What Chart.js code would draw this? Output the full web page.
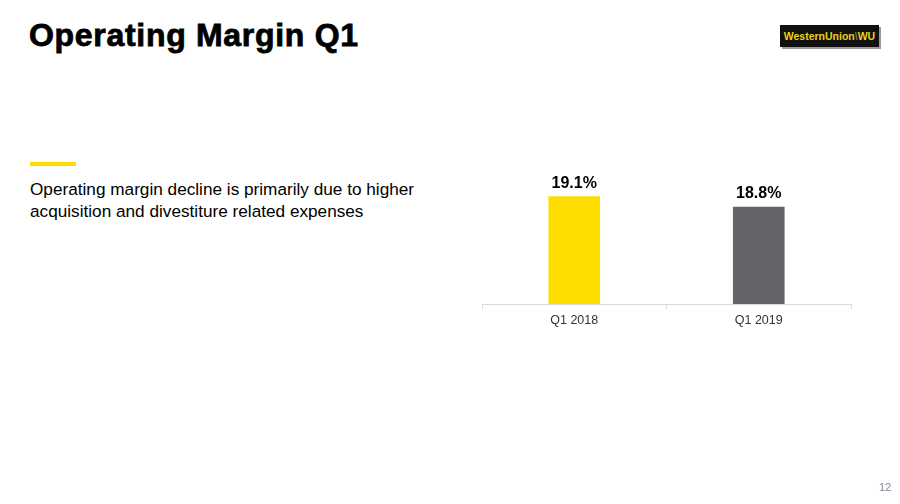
<!DOCTYPE html>
<html>
<head>
<meta charset="utf-8">
<script src="https://cdn.jsdelivr.net/npm/chart.js@4"></script>
<style>
	body { margin:0; width:900px; height:504px; background:#fff; position:relative; overflow:hidden; font-family:"Liberation Sans", Arial, sans-serif; }
	#title { position:absolute; left:29px; top:17px; font-size:32px; font-weight:bold; color:#000; -webkit-text-stroke:0.8px #000; letter-spacing:0.7px; }
	#logo { position:absolute; left:780px; top:25px; width:99px; height:22px; background:#111; box-shadow:2px 2px 0 #9a9a9a; color:#e8d21a; font-size:10.5px; font-weight:bold; line-height:22px; text-align:center; }
	#bar { position:absolute; left:30px; top:162px; width:46px; height:4px; background:#ffdd00; }
	#note { position:absolute; left:30px; top:178px; font-size:17.2px; line-height:22px; color:#000; }
	#page { position:absolute; left:879px; top:481px; font-size:11px; color:#8c8c8c; }
	#wrap { position:absolute; left:478px; top:150px; width:377px; height:190px; }
</style>
</head>
<body>
<div id="title">Operating Margin Q1</div>
<div id="logo">WesternUnion<span style="color:#777">\</span>WU</div>
<div id="bar"></div>
<div id="note">Operating margin decline is primarily due to higher<br>acquisition and divestiture related expenses</div>
<div id="page">12</div>
<div id="wrap"><canvas id="cbar"></canvas></div>
<script>
	var categories	=	["Q1 2018", "Q1 2019"];
	var marginValues	=	[19.1, 18.8];
	var barColors	=	["#ffdd00", "#636467"];

	var valueLabels = {
		id: "valueLabels",
		afterDatasetsDraw: function(chart) {
			var ctx = chart.ctx;
			var meta = chart.getDatasetMeta(0);
			ctx.save();
			ctx.font = "bold 16px 'Liberation Sans', Arial, sans-serif";
			ctx.fillStyle = "#000";
			ctx.textAlign = "center";
			ctx.textBaseline = "bottom";
			meta.data.forEach(function(bar, i) {
				ctx.fillText(marginValues[i].toFixed(1) + "%", bar.x, bar.y - 5);
			});
			ctx.restore();
		}
	};

	var cbar = document.getElementById("cbar").getContext("2d");
	var barChart = new Chart(cbar, {
		type: "bar",
		data: {
			labels: categories,
			datasets: [{
				data: marginValues,
				backgroundColor: barColors,
				barPercentage: 0.56,
				categoryPercentage: 0.5
			}]
		},
		options: {
			responsive: true,
			maintainAspectRatio: false,
			animation: false,
			layout: { padding: { left: 4, right: 4, top: 15, bottom: 0 } },
			plugins: { legend: { display: false }, tooltip: { enabled: false } },
			scales: {
				y: { display: false, min: 16, max: 20 },
				x: {
					afterFit: function(scale) { scale.height = 36; },
					border: { color: "#d9d9d9", width: 1 },
					grid: { offset: true, drawOnChartArea: false, color: "#d9d9d9", tickLength: 5 },
					ticks: { color: "#333", padding: 4, font: { family: "'Liberation Sans', Arial, sans-serif", size: 12.5 } }
				}
			}
		},
		plugins: [valueLabels]
	});
</script>
</body>
</html>
